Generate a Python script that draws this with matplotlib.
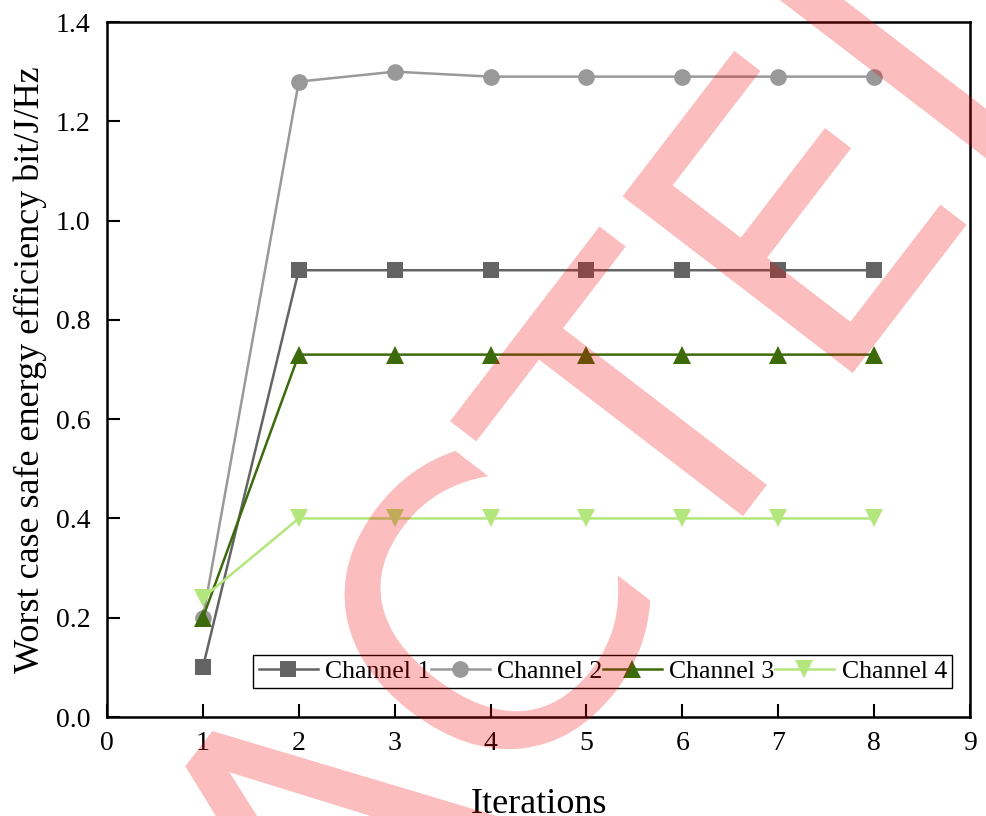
import matplotlib
matplotlib.use("Agg")
import numpy as np
import matplotlib.pyplot as plt
from matplotlib.textpath import TextPath
from matplotlib.patches import PathPatch
from matplotlib.font_manager import FontProperties
import matplotlib.transforms as mtrans

iterations = [1, 2, 3, 4, 5, 6, 7, 8]
channel1 = [0.10, 0.90, 0.90, 0.90, 0.90, 0.90, 0.90, 0.90]
channel2 = [0.20, 1.28, 1.30, 1.29, 1.29, 1.29, 1.29, 1.29]
channel3 = [0.20, 0.73, 0.73, 0.73, 0.73, 0.73, 0.73, 0.73]
channel4 = [0.24, 0.40, 0.40, 0.40, 0.40, 0.40, 0.40, 0.40]
labels = ["Channel 1", "Channel 2", "Channel 3", "Channel 4"]
xticks = [0, 1, 2, 3, 4, 5, 6, 7, 8, 9]
yticks = [0.0, 0.2, 0.4, 0.6, 0.8, 1.0, 1.2, 1.4]
watermark = "REDACTED"

plt.rcParams['font.family'] = ['Liberation Serif', 'DejaVu Serif']

fig = plt.figure(figsize=(9.87, 8.16), dpi=100)
ax = fig.add_axes([0.1084, 0.1213, 0.8744, 0.8517])

styles = [
    dict(color='#646464', marker='s', ms=11),
    dict(color='#999999', marker='o', ms=12),
    dict(color='#3d6b0b', marker='^', ms=13),
    dict(color='#b3e67c', marker='v', ms=13),
]
for y, lab, st in zip([channel1, channel2, channel3, channel4], labels, styles):
    ax.plot(iterations, y, label=lab, lw=1.8, markeredgewidth=0, **st)

ax.set_xlim(0, 9)
ax.set_ylim(0, 1.4)
ax.set_xticks(xticks)
ax.set_yticks(yticks)
ax.set_yticklabels([f"{v:.1f}" for v in yticks])
ax.tick_params(axis='x', direction='in', length=9.5, width=1.5, labelsize=20, pad=10)
ax.tick_params(axis='y', direction='in', length=9.5, width=1.5, labelsize=20, pad=12)
for s in ax.spines.values():
    s.set_linewidth(1.8)

ax.set_xlabel("Iterations", fontsize=26, labelpad=23)
ax.set_ylabel("Worst case safe energy efficiency bit/J/Hz", fontsize=26, labelpad=6)

leg = ax.legend(loc='lower right', bbox_to_anchor=(0.979, 0.042), borderaxespad=0,
                ncol=4, columnspacing=0.0, handletextpad=0.3, handlelength=2.3,
                borderpad=0.2, fancybox=False, framealpha=1, edgecolor='black',
                fontsize=18.5)
leg.get_frame().set_linewidth(1.0)

# watermark, drawn letter by letter in pixel coordinates
fp = FontProperties(family='DejaVu Sans')
em = 398.0
adv = {'R': 0.695, 'E': 0.632, 'D': 0.770, 'A': 0.684, 'C': 0.698, 'T': 0.611}
theta = np.deg2rad(52.5)
d = np.array([np.cos(theta), np.sin(theta)])
e_origin = np.array([829.0, 816.0 - 404.0])
pen = e_origin - sum(adv[c] for c in watermark[:6]) * em * d
for ch in watermark:
    p = TextPath((0, 0), ch, size=em, prop=fp)
    tr = mtrans.Affine2D().rotate(theta).translate(pen[0], pen[1])
    patch = PathPatch(p, transform=tr, facecolor='#f00000', edgecolor='none',
                      alpha=0.26, zorder=10)
    fig.add_artist(patch)
    pen = pen + adv[ch] * em * d

fig.savefig("out.png", dpi=100)
